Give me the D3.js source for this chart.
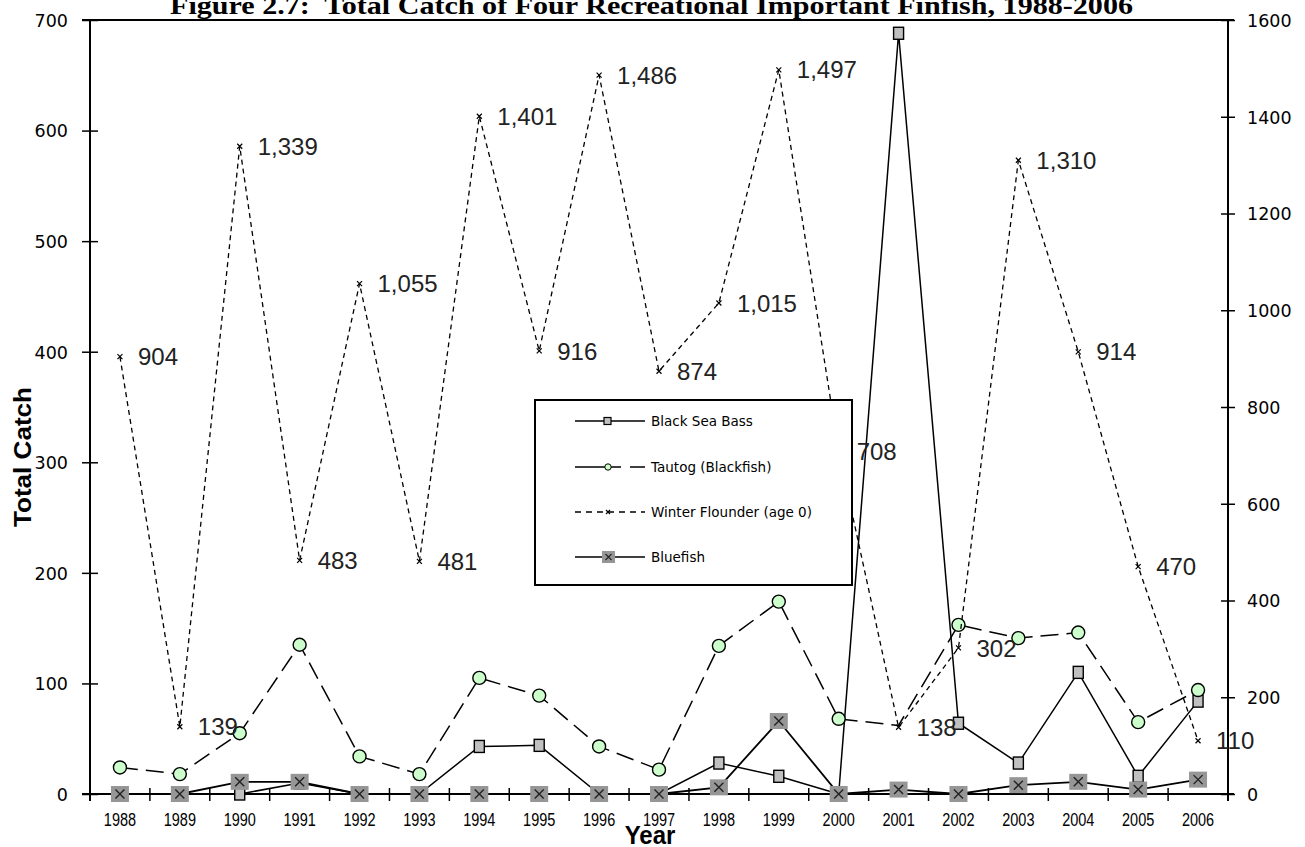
<!DOCTYPE html>
<html>
<head>
<meta charset="utf-8">
<script src="https://cdn.jsdelivr.net/npm/d3@7"></script>
<style>
  body { margin: 0; background: #fff; }
  svg { display: block; }
  .title { white-space: pre; }
</style>
</head>
<body>
<svg id="chart" width="1305" height="847"></svg>
<script>
// Survey years
const years = ["1988","1989","1990","1991","1992","1993","1994","1995","1996","1997",
               "1998","1999","2000","2001","2002","2003","2004","2005","2006"];

// Left-axis series (total catch)
const blackSeaBass = [0, 0, 0, 10, 0, 0, 43, 44, 0, 0, 28, 16, 0, 688, 64, 28, 110, 16, 84];
const tautog       = [24, 18, 55, 135, 34, 18, 105, 89, 43, 22, 134, 174, 68, 62, 153, 141, 146, 65, 94];
const bluefish     = [0, 0, 11, 11, 0, 0, 0, 0, 0, 0, 6, 66, 0, 4, 0, 8, 11, 4, 13];

// Right-axis series (total catch, labelled)
const winterFlounder = [904, 139, 1339, 483, 1055, 481, 1401, 916, 1486, 874,
                        1015, 1497, 708, 138, 302, 1310, 914, 470, 110];

// Years whose tautog point carries no marker
const tautogNoMarker = ["2001"];

// Axis ticks
const leftTicks  = [0, 100, 200, 300, 400, 500, 600, 700];
const rightTicks = [0, 200, 400, 600, 800, 1000, 1200, 1400, 1600];

const titleText = "Figure 2.7:  Total Catch of Four Recreational Important Finfish, 1988-2006";

const svg = d3.select("#chart");
const plot = { left: 90, right: 1228, top: 20, bottom: 794 };

const x = d3.scaleBand().domain(years).range([plot.left, plot.right]).padding(0);
const yL = d3.scaleLinear().domain([0, 700]).range([plot.bottom, plot.top]);
const yR = d3.scaleLinear().domain([0, 1600]).range([plot.bottom, plot.top]);
const cx = d => x(d) + x.bandwidth() / 2;

// ---- Title ----
svg.append("text")
  .attr("class", "title")
  .attr("x", 170).attr("y", 14)
  .attr("font-family", "'Liberation Serif', 'Times New Roman', serif")
  .attr("font-weight", "bold")
  .attr("font-size", 26)
  .attr("textLength", 963)
  .attr("lengthAdjust", "spacingAndGlyphs")
  .attr("fill", "#000")
  .text(titleText);

// ---- Frame: top border ----
svg.append("line")
  .attr("x1", plot.left - 8).attr("x2", plot.right + 6)
  .attr("y1", plot.top).attr("y2", plot.top)
  .attr("stroke", "#000").attr("stroke-width", 2);

// ---- Left axis ----
const leftAxis = d3.axisLeft(yL).tickValues(leftTicks).tickSize(0).tickPadding(0).tickFormat(d3.format("d"));
const gL = svg.append("g").attr("transform", `translate(${plot.left},0)`).call(leftAxis);
gL.select(".domain").remove();
gL.selectAll(".tick text")
  .attr("x", -22).attr("dy", "0.36em")
  .attr("font-family", "'DejaVu Sans', sans-serif")
  .attr("font-size", 17.5).attr("fill", "#000");
gL.selectAll(".tick").append("line")
  .attr("x1", -8).attr("x2", 8).attr("stroke", "#000").attr("stroke-width", 1.5);
svg.append("line")
  .attr("x1", plot.left).attr("x2", plot.left)
  .attr("y1", plot.top).attr("y2", plot.bottom + 7)
  .attr("stroke", "#000").attr("stroke-width", 2);

// ---- Right axis ----
const rightAxis = d3.axisRight(yR).tickValues(rightTicks).tickSize(0).tickPadding(0).tickFormat(d3.format("d"));
const gR = svg.append("g").attr("transform", `translate(${plot.right},0)`).call(rightAxis);
gR.select(".domain").remove();
gR.selectAll(".tick text")
  .attr("x", 19).attr("dy", "0.36em")
  .attr("font-family", "'DejaVu Sans', sans-serif")
  .attr("font-size", 17.5).attr("fill", "#000");
gR.selectAll(".tick").append("line")
  .attr("x1", -7).attr("x2", 7).attr("stroke", "#000").attr("stroke-width", 1.5);
svg.append("line")
  .attr("x1", plot.right).attr("x2", plot.right)
  .attr("y1", plot.top).attr("y2", plot.bottom + 7)
  .attr("stroke", "#000").attr("stroke-width", 2);

// ---- Bottom (category) axis ----
const bottomAxis = d3.axisBottom(x).tickSize(0).tickPadding(0);
const gB = svg.append("g").attr("transform", `translate(0,${plot.bottom})`).call(bottomAxis);
gB.select(".domain").remove();
gB.selectAll(".tick text")
  .attr("y", 0).attr("dy", 0)
  .attr("transform", "translate(0,32) scale(1,1.22)")
  .attr("font-family", "'Liberation Sans', Arial, sans-serif")
  .attr("font-size", 14.5).attr("fill", "#000");
// boundary tick marks between categories
svg.append("g").selectAll("line")
  .data(years.concat(["end"]))
  .join("line")
  .attr("x1", (d, i) => plot.left + i * x.bandwidth())
  .attr("x2", (d, i) => plot.left + i * x.bandwidth())
  .attr("y1", plot.bottom - 6).attr("y2", plot.bottom + 7)
  .attr("stroke", "#000").attr("stroke-width", 1.5);
svg.append("line")
  .attr("x1", plot.left - 8).attr("x2", plot.right + 6)
  .attr("y1", plot.bottom).attr("y2", plot.bottom)
  .attr("stroke", "#000").attr("stroke-width", 2);

// ---- Axis titles ----
svg.append("text")
  .attr("transform", "translate(31,457) rotate(-90)")
  .attr("text-anchor", "middle")
  .attr("font-family", "'Liberation Sans', Arial, sans-serif")
  .attr("font-weight", "bold")
  .attr("font-size", 24)
  .attr("textLength", 140).attr("lengthAdjust", "spacingAndGlyphs")
  .attr("fill", "#000")
  .text("Total Catch");

svg.append("text")
  .attr("transform", "translate(650,844) scale(1,1.08)")
  .attr("text-anchor", "middle")
  .attr("font-family", "'Liberation Sans', Arial, sans-serif")
  .attr("font-weight", "bold")
  .attr("font-size", 24)
  .attr("fill", "#000")
  .text("Year");

// ---- Series lines ----
const lineL = d3.line().x((d, i) => cx(years[i])).y(d => yL(d));
const lineR = d3.line().x((d, i) => cx(years[i])).y(d => yR(d));

// Black Sea Bass
svg.append("path").datum(blackSeaBass)
  .attr("d", lineL).attr("fill", "none")
  .attr("stroke", "#000").attr("stroke-width", 1.5);
svg.append("g").selectAll("rect")
  .data(blackSeaBass.map((v, i) => ({ v, yr: years[i] })))
  .join("rect")
  .attr("x", d => cx(d.yr) - 5).attr("y", d => yL(d.v) - 6)
  .attr("width", 10).attr("height", 12)
  .attr("fill", "#c0c0c0").attr("stroke", "#000").attr("stroke-width", 1.4);

// Tautog (Blackfish)
svg.append("path").datum(tautog)
  .attr("d", lineL).attr("fill", "none")
  .attr("stroke", "#000").attr("stroke-width", 1.5)
  .attr("stroke-dasharray", "18,8");
svg.append("g").selectAll("circle")
  .data(tautog.map((v, i) => ({ v, yr: years[i] })).filter(d => !tautogNoMarker.includes(d.yr)))
  .join("circle")
  .attr("cx", d => cx(d.yr)).attr("cy", d => yL(d.v))
  .attr("r", 6.5)
  .attr("fill", "#ccffcc").attr("stroke", "#000").attr("stroke-width", 1.4);

// Winter Flounder (age 0), right axis
svg.append("path").datum(winterFlounder)
  .attr("d", lineR).attr("fill", "none")
  .attr("stroke", "#000").attr("stroke-width", 1.3)
  .attr("stroke-dasharray", "5,4");
const xMark = (g, s) => g.attr("d", `M${-s},${-s}L${s},${s}M${-s},${s}L${s},${-s}`);
svg.append("g").selectAll("path")
  .data(winterFlounder.map((v, i) => ({ v, yr: years[i] })))
  .join("path")
  .attr("transform", d => `translate(${cx(d.yr)},${yR(d.v)})`)
  .call(xMark, 2.5)
  .attr("stroke", "#000").attr("stroke-width", 1.2);
svg.append("g").selectAll("text")
  .data(winterFlounder.map((v, i) => ({ v, yr: years[i] })))
  .join("text")
  .attr("x", d => cx(d.yr) + 18).attr("y", d => yR(d.v))
  .attr("dy", "0.36em")
  .attr("font-family", "'Liberation Sans', Arial, sans-serif")
  .attr("font-size", 24).attr("fill", "#222")
  .text(d => d3.format(",")(d.v));

// Bluefish
svg.append("path").datum(bluefish)
  .attr("d", lineL).attr("fill", "none")
  .attr("stroke", "#000").attr("stroke-width", 1.8);
const bf = svg.append("g").selectAll("g")
  .data(bluefish.map((v, i) => ({ v, yr: years[i] })))
  .join("g")
  .attr("transform", d => `translate(${cx(d.yr)},${yL(d.v)})`);
bf.append("rect")
  .attr("x", -9).attr("y", -8).attr("width", 18).attr("height", 16)
  .attr("fill", "#969696");
bf.append("path").call(xMark, 4.5)
  .attr("stroke", "#222").attr("stroke-width", 1.4);

// ---- Legend ----
const legend = svg.append("g");
legend.append("rect")
  .attr("x", 535).attr("y", 400).attr("width", 317).attr("height", 185)
  .attr("fill", "#fff").attr("stroke", "#000").attr("stroke-width", 2);

const legendItems = [
  { name: "Black Sea Bass", y: 421, dash: null },
  { name: "Tautog (Blackfish)", y: 467, dash: "46,9" },
  { name: "Winter Flounder (age 0)", y: 512, dash: "6,5" },
  { name: "Bluefish", y: 557, dash: null }
];
const li = legend.selectAll("g.item").data(legendItems).join("g")
  .attr("class", "item")
  .attr("transform", d => `translate(0,${d.y})`);
li.append("line")
  .attr("x1", 575).attr("x2", 645)
  .attr("stroke", "#000").attr("stroke-width", 1.5)
  .attr("stroke-dasharray", d => d.dash);
li.append("text")
  .attr("x", 651).attr("dy", "0.36em")
  .attr("font-family", "'DejaVu Sans', sans-serif")
  .attr("font-size", 13.5).attr("fill", "#000")
  .text(d => d.name);

// legend markers
li.filter((d, i) => i === 0).append("rect")
  .attr("x", 604).attr("y", -3.5).attr("width", 7).attr("height", 7)
  .attr("fill", "#c0c0c0").attr("stroke", "#000").attr("stroke-width", 1.2);
li.filter((d, i) => i === 1).append("circle")
  .attr("cx", 608).attr("r", 3.2)
  .attr("fill", "#ccffcc").attr("stroke", "#000").attr("stroke-width", 1);
li.filter((d, i) => i === 2).append("path")
  .attr("transform", "translate(608,0)").call(xMark, 2)
  .attr("stroke", "#000").attr("stroke-width", 1.1);
const lbf = li.filter((d, i) => i === 3);
lbf.append("rect")
  .attr("x", 602).attr("y", -6).attr("width", 13).attr("height", 12)
  .attr("fill", "#969696");
lbf.append("path").attr("transform", "translate(608.5,0)").call(xMark, 3)
  .attr("stroke", "#222").attr("stroke-width", 1.1);
</script>
</body>
</html>
